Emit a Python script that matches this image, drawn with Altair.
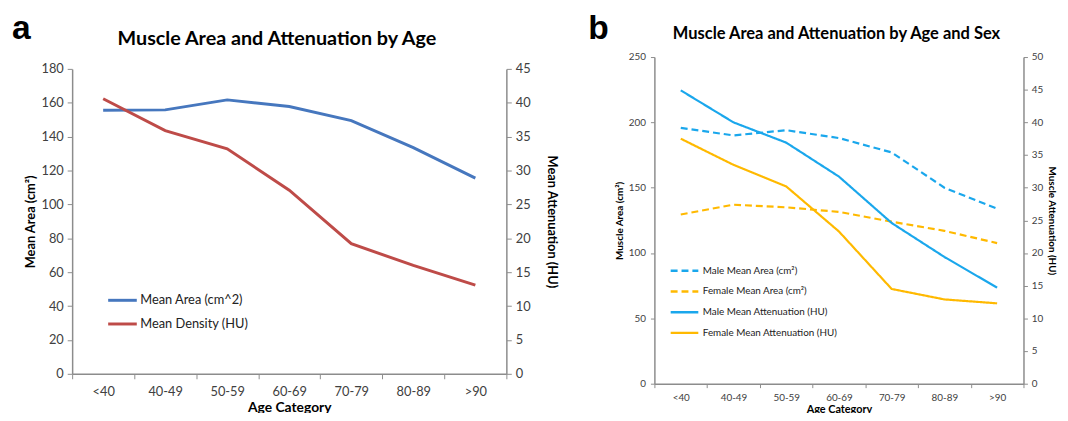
import altair as alt
import pandas as pd

FONT = "Lato"

ages = ["<40", "40-49", "50-59", "60-69", "70-79", "80-89", ">90"]

# Panel a
mean_area = [155.6, 155.8, 161.7, 157.8, 149.5, 133.5, 115.5]
mean_density = [40.6, 35.9, 33.2, 27.1, 19.2, 16.0, 13.1]
left_series = ["Mean Area (cm^2)", "Mean Density (HU)"]
left_colors = ["#4677BE", "#BE4B48"]
left_title = "Muscle Area and Attenuation by Age"

# Panel b
male_area = [195.8, 190.0, 194.0, 188.0, 177.0, 150.0, 134.0]
female_area = [129.5, 137.0, 135.0, 131.5, 124.0, 117.0, 107.6]
male_att = [44.9, 40.0, 36.9, 31.7, 24.6, 19.4, 14.7]
female_att = [37.5, 33.5, 30.2, 23.3, 14.5, 12.9, 12.3]
right_series = ["Male Mean Area (cm\u00b2)", "Female Mean Area (cm\u00b2)",
                "Male Mean Attenuation (HU)", "Female Mean Attenuation (HU)"]
right_colors = ["#1AA7EC", "#FFB900", "#1AA7EC", "#FFB900"]
right_dashes = [[7, 4], [7, 4], [1, 0], [1, 0]]
right_title = "Muscle Area and Attenuation by Age and Sex"


def long(series_names, arrays):
    rows = []
    for name, arr in zip(series_names, arrays):
        for a, v in zip(ages, arr):
            rows.append({"age": a, "series": name, "value": v})
    return pd.DataFrame(rows)


left_df = long(left_series, [mean_area, mean_density])
right_df = long(right_series, [male_area, female_area, male_att, female_att])

AXIS_GRAY = "#8C8C8C"
LABEL_COLOR = "#404040"


def xenc(fs, tfs, tick, lpad, tpad):
    return alt.X(
        "age:N", sort=ages,
        scale=alt.Scale(type="band", paddingInner=0, paddingOuter=0, domain=ages),
        axis=alt.Axis(title="Age Category", tickBand="extent", labelAngle=0,
                      labelFontSize=fs, titleFontSize=tfs, tickSize=tick,
                      labelPadding=lpad, titlePadding=tpad),
    )


def text_mark(txt, dx, dy, font, size, align):
    return alt.Chart(pd.DataFrame({"t": [txt]})).mark_text(
        font=font, fontSize=size, fontWeight="bold",
        align=align, baseline="alphabetic", color="black"
    ).encode(x=alt.value(dx), y=alt.value(dy), text="t:N")


# ---------- Panel a ----------
LH = 321  # group height; axis spans 12..321
left_legend = alt.Legend(orient="none", legendX=35, legendY=230.5, title=None,
                         symbolType="stroke", symbolSize=841, symbolStrokeWidth=3,
                         labelFontSize=13, rowPadding=1, padding=0, labelOffset=2,
                         labelColor="#222222")
lcolor = alt.Color("series:N", scale=alt.Scale(domain=left_series, range=left_colors),
                   legend=left_legend)

LX = xenc(13, 14, 5, 6.5, 2.5)
base_l = alt.Chart(left_df).mark_line(strokeWidth=3)
area_l = base_l.transform_filter(alt.datum.series == left_series[0]).encode(
    x=LX,
    y=alt.Y("value:Q", scale=alt.Scale(domain=[0, 180], nice=False, range=[LH, 12]),
            axis=alt.Axis(values=list(range(0, 181, 20)), title="Mean Area (cm\u00b2)",
                          orient="left", labelFontSize=13, titleFontSize=13,
                          tickSize=5, labelPadding=4, titlePadding=4)),
    color=lcolor,
)
dens_l = base_l.transform_filter(alt.datum.series == left_series[1]).encode(
    x=LX,
    y=alt.Y("value:Q", scale=alt.Scale(domain=[0, 45], nice=False, range=[LH, 12]),
            axis=alt.Axis(values=list(range(0, 46, 5)), title="Mean Attenuation (HU)",
                          orient="right", labelFontSize=13, titleFontSize=13,
                          tickSize=5, labelPadding=4, titlePadding=15)),
    color=lcolor,
)
left = alt.layer(
    area_l, dens_l,
    text_mark("a", -61, -18, "Liberation Sans", 34, "left"),
    text_mark(left_title, 207.5, -12, FONT, 20, "center"),
).resolve_scale(y="independent").properties(width=440, height=LH)

# ---------- Panel b ----------
right_legend = alt.Legend(orient="none", legendX=15, legendY=201, title=None,
                          symbolType="stroke", symbolSize=784, symbolStrokeWidth=2.5,
                          labelFontSize=10, rowPadding=-4.5, padding=0, labelOffset=3,
                          labelColor="#222222")
rcolor = alt.Color("series:N", scale=alt.Scale(domain=right_series, range=right_colors),
                   legend=right_legend)
rdash = alt.StrokeDash("series:N", scale=alt.Scale(domain=right_series, range=right_dashes),
                       legend=right_legend)

RX = xenc(10, 11, 4, 5, 1)
base_r = alt.Chart(right_df).mark_line(strokeWidth=2.2)
area_r = base_r.transform_filter(
    (alt.datum.series == right_series[0]) | (alt.datum.series == right_series[1])
).encode(
    x=RX,
    y=alt.Y("value:Q", scale=alt.Scale(domain=[0, 250], nice=False),
            axis=alt.Axis(values=list(range(0, 251, 50)), title="Muscle Area (cm\u00b2)",
                          orient="left", labelFontSize=10, titleFontSize=10,
                          tickSize=4, labelPadding=5, titlePadding=4)),
    color=rcolor, strokeDash=rdash, detail="series:N",
)
att_r = base_r.transform_filter(
    (alt.datum.series == right_series[2]) | (alt.datum.series == right_series[3])
).encode(
    x=RX,
    y=alt.Y("value:Q", scale=alt.Scale(domain=[0, 50], nice=False),
            axis=alt.Axis(values=list(range(0, 51, 5)), title="Muscle Attenuation (HU)",
                          orient="right", labelFontSize=10, titleFontSize=10,
                          tickSize=4, labelPadding=4, titlePadding=4)),
    color=rcolor, strokeDash=rdash, detail="series:N",
)
right = alt.layer(
    area_r, att_r,
    text_mark("b", -67, -18, "Liberation Sans", 34, "left"),
    text_mark(right_title, 184.5, -18, FONT, 16.7, "center"),
).resolve_scale(y="independent").properties(width=374, height=331)

chart = alt.hconcat(left, right, spacing=30).resolve_scale(
    color="independent", strokeDash="independent"
).properties(
    padding={"left": 4, "top": 2, "right": 3, "bottom": -4}
).configure_view(stroke=None).configure_axis(
    labelFont=FONT, titleFont=FONT, domainColor=AXIS_GRAY, tickColor=AXIS_GRAY,
    labelColor=LABEL_COLOR, titleColor="black", titleFontWeight="bold", grid=False,
    domainWidth=1.5,
).configure_legend(labelFont=FONT)

chart.save("out.html", embed_options={"renderer": "svg", "actions": False})
